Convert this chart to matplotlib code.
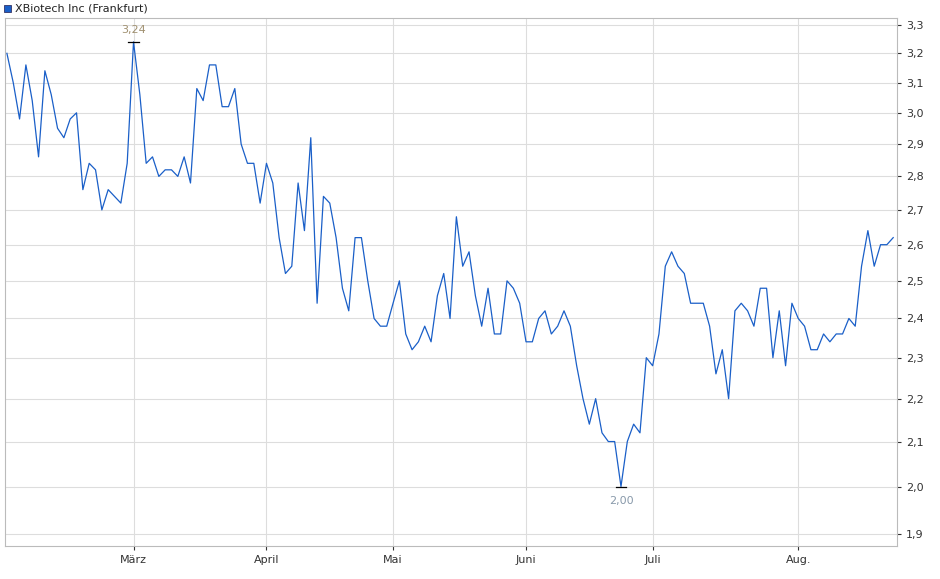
import matplotlib
matplotlib.use('Agg')
import matplotlib.pyplot as plt
from matplotlib.ticker import FuncFormatter, NullLocator, FixedLocator

# Kurs (Frankfurt), ein Wert pro Handelstag
prices = [
    3.20, 3.10, 2.98, 3.16, 3.04, 2.86, 3.14, 3.06, 2.95, 2.92, 2.98, 3.00, 2.76, 2.84, 2.82, 2.70, 2.76, 2.74, 2.72, 2.84,
    3.24, 3.06, 2.84, 2.86, 2.80, 2.82, 2.82, 2.80, 2.86, 2.78, 3.08, 3.04, 3.16, 3.16, 3.02, 3.02, 3.08, 2.90, 2.84, 2.84, 2.72,
    2.84, 2.78, 2.62, 2.52, 2.54, 2.78, 2.64, 2.92, 2.44, 2.74, 2.72, 2.62, 2.48, 2.42, 2.62, 2.62, 2.50, 2.40, 2.38, 2.38,
    2.44, 2.50, 2.36, 2.32, 2.34, 2.38, 2.34, 2.46, 2.52, 2.40, 2.68, 2.54, 2.58, 2.46, 2.38, 2.48, 2.36, 2.36, 2.50, 2.48,
    2.44, 2.34, 2.34, 2.40, 2.42, 2.36, 2.38, 2.42, 2.38, 2.28, 2.20, 2.14, 2.20, 2.12, 2.10, 2.10, 2.00, 2.10, 2.14, 2.12,
    2.30, 2.28, 2.36, 2.54, 2.58, 2.54, 2.52, 2.44, 2.44, 2.44, 2.38, 2.26, 2.32, 2.20, 2.42, 2.44, 2.42, 2.38, 2.48, 2.48,
    2.30, 2.42, 2.28, 2.44, 2.40, 2.38, 2.32, 2.32, 2.36, 2.34, 2.36, 2.36, 2.40, 2.38, 2.54, 2.64, 2.54, 2.60, 2.60, 2.62,
]
month_labels = ['März', 'April', 'Mai', 'Juni', 'Juli', 'Aug.']
month_idx = [20, 41, 61, 82, 102, 125]
y_ticks = [1.9, 2.0, 2.1, 2.2, 2.3, 2.4, 2.5, 2.6, 2.7, 2.8, 2.9, 3.0, 3.1, 3.2, 3.3]

fig = plt.figure(figsize=(9.4, 5.79), dpi=100)
ax = fig.add_axes([5 / 940, 33 / 579, 892 / 940, 528 / 579])
x = list(range(len(prices)))
ax.plot(x, prices, color='#1a5fc8', lw=0.9)

ax.set_yscale('log')
ax.set_xlim(-0.3, 140.6)
ax.set_ylim(1.875, 3.325)
ax.set_xticks(month_idx)
ax.set_xticklabels(month_labels)
ax.yaxis.set_major_locator(FixedLocator(y_ticks))
ax.yaxis.set_minor_locator(NullLocator())
ax.yaxis.tick_right()
ax.yaxis.set_major_formatter(FuncFormatter(lambda v, p: f'{v:.1f}'.replace('.', ',')))
ax.tick_params(labelsize=8, length=3, colors='#333333')
ax.grid(color='#dddddd', lw=0.8)
for s in ax.spines.values():
    s.set_color('#bbbbbb')

# Hoch / Tief markieren
i_max = prices.index(max(prices))
i_min = prices.index(min(prices))
for i, fac, va in [(i_max, 1.008, 'bottom'), (i_min, 0.99, 'top')]:
    v = prices[i]
    ax.plot([i - 0.8, i + 0.8], [v, v], color='black', lw=0.9)
    ax.text(i, v * fac, f'{v:.2f}'.replace('.', ','), ha='center', va=va, fontsize=8,
            color='#a09070' if fac > 1 else '#8899aa')

fig.patches.append(plt.Rectangle((4 / 940, 1 - 12 / 579), 7 / 940, 7 / 579, transform=fig.transFigure,
                                 facecolor='#1a5fc8', edgecolor='#333366', lw=0.6))
fig.text(15 / 940, 1 - 8.5 / 579, 'XBiotech Inc (Frankfurt)', fontsize=8, va='center', color='#222222')

fig.savefig('out.png')
